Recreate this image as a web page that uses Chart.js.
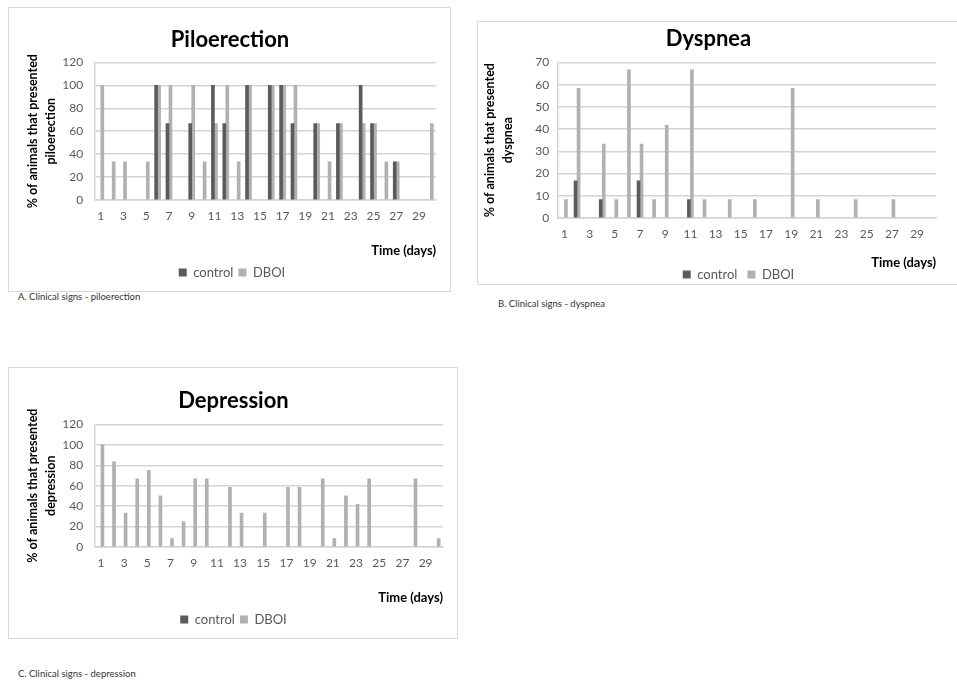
<!DOCTYPE html>
<html>
<head>
<meta charset="utf-8">
<script src="https://cdn.jsdelivr.net/npm/chart.js@4"></script>
<style>
  body { margin: 0; width: 957px; height: 681px; overflow: hidden; background: #fff; position: relative; font-family: Lato, sans-serif; }
  .box { position: absolute; border: 1px solid #d9d9d9; box-sizing: border-box; }
  .cap { position: absolute; font-size: 9.5px; color: #333; white-space: nowrap; }
</style>
</head>
<body>
<div class="box" style="left:8px;top:7px;width:443px;height:285px"><canvas id="pilo"></canvas></div>
<div class="cap" style="left:18px;top:291px">A. Clinical signs - piloerection</div>
<div class="box" style="left:477px;top:21px;width:486px;height:264px"><canvas id="dysp"></canvas></div>
<div class="cap" style="left:498px;top:298px">B. Clinical signs - dyspnea</div>
<div class="box" style="left:8px;top:367px;width:450px;height:272px"><canvas id="depr"></canvas></div>
<div class="cap" style="left:18px;top:668px">C. Clinical signs - depression</div>
<script>
const days = ['1','2','3','4','5','6','7','8','9','10','11','12','13','14','15',
  '16','17','18','19','20','21','22','23','24','25','26','27','28','29','30'];
const seriesNames = ['control', 'DBOI'];

// piloerection (% of animals)
const piloControl = [0,0,0,0,0,100,66.7,0,66.7,0,100,66.7,0,100,0,100,100,66.7,0,66.7,0,66.7,0,100,66.7,0,33.3,0,0,0];
const piloDboi = [100,33.3,33.3,0,33.3,100,100,0,100,33.3,66.7,100,33.3,100,0,100,100,100,0,66.7,33.3,66.7,0,66.7,66.7,33.3,33.3,0,0,66.7];

// dyspnea
const dyspControl = [0,16.7,0,8.3,0,0,16.7,0,0,0,8.3,0,0,0,0,0,0,0,0,0,0,0,0,0,0,0,0,0,0,0];
const dyspDboi = [8.3,58.3,0,33.3,8.3,66.7,33.3,8.3,41.7,0,66.7,8.3,0,8.3,0,8.3,0,0,58.3,0,8.3,0,0,8.3,0,0,8.3,0,0,0];

// depression
const deprControl = [0,0,0,0,0,0,0,0,0,0,0,0,0,0,0,0,0,0,0,0,0,0,0,0,0,0,0,0,0,0];
const deprDboi = [100,83.3,33.3,66.7,75,50,8.3,25,66.7,66.7,0,58.3,33.3,0,33.3,0,58.3,58.3,0,66.7,8.3,50,41.7,66.7,0,0,0,66.7,0,8.3];

const piloTicks = [0, 20, 40, 60, 80, 100, 120];
const dyspTicks = [0, 10, 20, 30, 40, 50, 60, 70];
const deprTicks = [0, 20, 40, 60, 80, 100, 120];

const FONT = 'Lato, "Open Sans", sans-serif';
const GRID = '#d4d4d4';

// zero days draw no bar at all
const noZero = arr => arr.map(v => v === 0 ? null : v);

function makeChart(id, title, yTitle, control, dboi, ticks, lay) {
  const ctx = document.getElementById(id).getContext('2d');
  new Chart(ctx, {
    type: 'bar',
    data: {
      labels: days,
      datasets: [
        { label: seriesNames[0], data: noZero(control), backgroundColor: '#5b5b5b', barThickness: 3 },
        { label: seriesNames[1], data: noZero(dboi), backgroundColor: '#b1b1b1', barThickness: 3 },
      ]
    },
    options: {
      responsive: true,
      maintainAspectRatio: false,
      animation: false,
      layout: { padding: lay.pad },
      scales: {
        x: {
          grid: { display: false, drawTicks: false },
          border: { display: true, color: GRID, width: 1.5 },
          ticks: {
            autoSkip: false, maxRotation: 0, minRotation: 0,
            padding: 9, color: '#595959', font: { family: FONT, size: 12 },
            callback: function(val, i) { return i % 2 === 0 ? this.getLabelForValue(val) : ''; }
          },
          title: {
            display: true, text: 'Time (days)', align: 'end', color: '#000',
            font: { family: FONT, size: 13, weight: 'bold' }, padding: lay.xTitlePad
          }
        },
        y: {
          min: ticks[0],
          max: ticks[ticks.length - 1],
          grid: { color: GRID, lineWidth: 1.5, drawTicks: false },
          border: { display: true, color: GRID, width: 1.5 },
          ticks: {
            stepSize: ticks[1] - ticks[0], autoSkip: false, padding: lay.yTickPad, color: '#595959',
            font: { family: FONT, size: 12 }
          },
          title: {
            display: true, text: yTitle, color: '#000',
            font: { family: FONT, size: 12.5, weight: 'bold', lineHeight: 1.45 }, padding: { top: 0, bottom: lay.yTitleGap }
          }
        }
      },
      plugins: {
        title: {
          display: true, text: title, color: '#000',
          font: { family: FONT, size: 22, weight: 'bold' }, padding: lay.titlePad
        },
        legend: {
          position: 'bottom',
          labels: {
            boxWidth: 8, boxHeight: 8, padding: lay.legendPad, color: '#595959',
            font: { family: FONT, size: 13 }
          }
        },
        tooltip: { enabled: false }
      }
    },
    plugins: [{
      // nudge the legend sideways (dyspnea legend sits right of centre)
      id: 'legendShift',
      afterLayout(chart) {
        chart.legend.left += lay.legendShift;
        chart.legend.right += lay.legendShift;
      }
    }]
  });
}

makeChart('pilo', 'Piloerection', ['% of animals that presented', 'piloerection'], piloControl, piloDboi, piloTicks, {
  pad: { left: 15, right: 14, top: 0, bottom: 2 },
  titlePad: { top: 19, bottom: 9 },
  xTitlePad: { top: 11, bottom: 2 },
  yTitleGap: -10, yTickPad: 12,
  legendPad: 5, legendShift: 2
});
makeChart('dysp', 'Dyspnea', ['% of animals that presented', 'dyspnea'], dyspControl, dyspDboi, dyspTicks, {
  pad: { left: 3, right: 26, top: 0, bottom: -7 },
  titlePad: { top: 4, bottom: 10 },
  xTitlePad: { top: 5, bottom: -13 },
  yTitleGap: 9, yTickPad: 9,
  legendPad: 10, legendShift: 30
});
makeChart('depr', 'Depression', ['% of animals that presented', 'depression'], deprControl, deprDboi, deprTicks, {
  pad: { left: 15, right: 14, top: 0, bottom: 2 },
  titlePad: { top: 20, bottom: 10 },
  xTitlePad: { top: 11, bottom: 2 },
  yTitleGap: -10, yTickPad: 12,
  legendPad: 5, legendShift: 0
});
</script>
</body>
</html>
